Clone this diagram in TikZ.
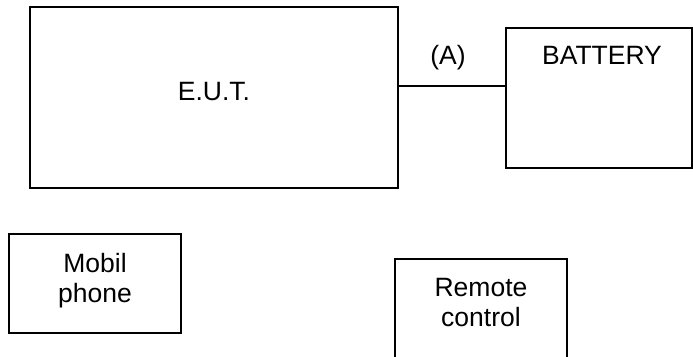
\documentclass[tikz,border=0pt]{standalone}
\usepackage{fontspec}
\setmainfont{Liberation Sans}
\usetikzlibrary{positioning}

\begin{document}
\begin{tikzpicture}[x=1pt, y=-1pt, line width=1.6pt,
  font=\fontsize{26.5}{30}\selectfont,
  bloc/.style={draw, rectangle, inner sep=0pt, align=center, text depth=12pt}]

\useasboundingbox (0,0) rectangle (693,356);
\clip (0,0) rectangle (693,356);

% Blocs du haut
\node[bloc, minimum width=368, minimum height=181] (eut) at (214,97.5) {E.U.T.};
\node[bloc, minimum width=186, minimum height=140] (battery) at (599,98) {};
\node (batterytxt) at (602,55) {BATTERY};

% Liaison (A)
\coordinate (tap) at (450,86);
\draw (eut.east |- tap) -- (battery.west |- tap);
\node (cableA) at (448,58) {(A)};

% Blocs du bas
\node[bloc, minimum width=172, minimum height=99] (mobil) at (95,283.5) {Mobil\\phone};
\node[bloc, minimum width=172, minimum height=99] (remote) at (481,308.5) {Remote\\control};

\end{tikzpicture}
\end{document}
